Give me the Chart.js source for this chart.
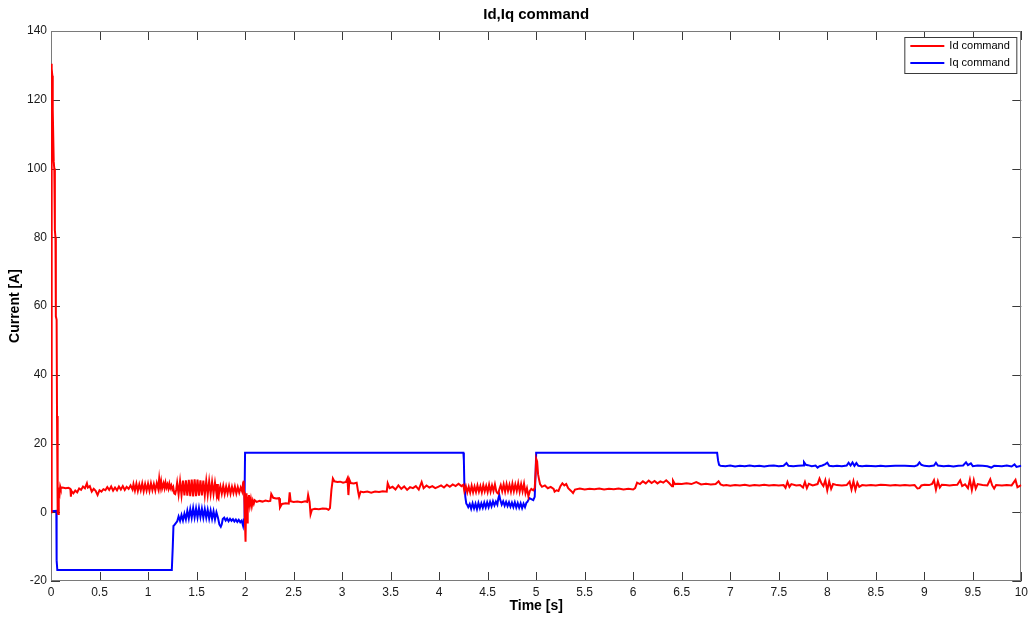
<!DOCTYPE html>
<html>
<head>
<meta charset="utf-8">
<title>Id,Iq command</title>
<script src="https://cdn.jsdelivr.net/npm/chart.js@4/dist/chart.umd.min.js"></script>
<style>
  html, body { margin: 0; padding: 0; background: #ffffff; }
  #plot { display: block; }
</style>
</head>
<body>
<canvas id="plot" width="1032" height="619"></canvas>
<script>
// Title and axis names
const titleText = 'Id,Iq command';
const xAxisName = 'Time [s]';
const yAxisName = 'Current [A]';
const seriesNames = ['Id command', 'Iq command'];

// Tick positions and their labels
const xTickValues = [0, 0.5, 1, 1.5, 2, 2.5, 3, 3.5, 4, 4.5, 5, 5.5, 6, 6.5, 7, 7.5, 8, 8.5, 9, 9.5, 10];
const xTickLabels = ['0', '0.5', '1', '1.5', '2', '2.5', '3', '3.5', '4', '4.5', '5', '5.5', '6', '6.5', '7', '7.5', '8', '8.5', '9', '9.5', '10'];
const yTickValues = [-20, 0, 20, 40, 60, 80, 100, 120, 140];
const yTickLabels = ['-20', '0', '20', '40', '60', '80', '100', '120', '140'];

// Id command: sample times [s]
const idTime = [
  0, 0.004, 0.010, 0.014, 0.016, 0.020, 0.028, 0.034, 0.040, 0.046, 0.050, 0.058, 0.062, 0.066, 0.068, 0.072, 0.074, 0.078, 0.082, 0.09,
  0.095, 0.10, 0.12, 0.15, 0.18, 0.20, 0.205, 0.21, 0.23, 0.25, 0.27, 0.29, 0.31, 0.33, 0.35, 0.37, 0.38, 0.40, 0.42, 0.44,
  0.46, 0.48, 0.50, 0.52, 0.54, 0.56, 0.58, 0.60, 0.62, 0.64, 0.66, 0.68, 0.70, 0.72, 0.74, 0.76, 0.78, 0.80, 0.82, 0.84,
  0.85, 0.865, 0.88, 0.895, 0.91, 0.925, 0.94, 0.955, 0.97, 0.985, 1.00, 1.015, 1.03, 1.045, 1.06, 1.075, 1.09, 1.105, 1.115, 1.125,
  1.135, 1.145, 1.16, 1.17, 1.18, 1.19, 1.20, 1.21, 1.22, 1.23, 1.24, 1.25, 1.26, 1.27, 1.28, 1.29,
  1.30, 1.315, 1.33, 1.345, 1.36, 1.375, 1.39, 1.405, 1.42, 1.435, 1.45, 1.465, 1.48, 1.495, 1.51, 1.525, 1.54, 1.555, 1.57, 1.585,
  1.60, 1.615, 1.63, 1.645, 1.66, 1.675, 1.69, 1.705, 1.712, 1.72, 1.726, 1.735,
  1.745, 1.76, 1.775, 1.79, 1.805, 1.82, 1.835, 1.85, 1.865, 1.88, 1.895, 1.91, 1.925, 1.94, 1.955, 1.97, 1.98, 1.985, 1.99, 1.995,
  2.0, 2.005, 2.01, 2.015, 2.02, 2.025, 2.03, 2.04, 2.05, 2.06, 2.07, 2.08, 2.09, 2.10,
  2.12, 2.15, 2.18, 2.21, 2.24, 2.26, 2.27, 2.29, 2.32, 2.35, 2.36, 2.38, 2.42, 2.45, 2.46, 2.47, 2.50, 2.54, 2.58, 2.62,
  2.64, 2.65, 2.665, 2.675, 2.69, 2.72, 2.76, 2.80, 2.84, 2.86, 2.875, 2.89, 2.905, 2.92, 2.95, 2.98, 3.01, 3.04, 3.055, 3.065,
  3.075, 3.09, 3.12, 3.15, 3.165, 3.175, 3.19, 3.22, 3.26, 3.30, 3.34, 3.38, 3.42, 3.46,
  3.47, 3.49, 3.52, 3.55, 3.58, 3.61, 3.64, 3.67, 3.70, 3.73, 3.76, 3.79, 3.82, 3.84, 3.87, 3.90, 3.93, 3.96, 3.99, 4.02,
  4.05, 4.08, 4.11, 4.14, 4.17, 4.20, 4.23, 4.25,
  4.26, 4.275, 4.29, 4.305, 4.32, 4.335, 4.35, 4.365, 4.38, 4.395, 4.41, 4.425, 4.44, 4.455, 4.47, 4.485, 4.50, 4.515, 4.53, 4.545,
  4.56, 4.575, 4.59, 4.60, 4.61, 4.62, 4.635, 4.65, 4.665, 4.68, 4.695, 4.71, 4.725, 4.74, 4.755, 4.77, 4.785, 4.80, 4.815, 4.83,
  4.845, 4.86, 4.875, 4.89, 4.905, 4.92, 4.935, 4.95, 4.97, 4.985,
  4.995, 5.0, 5.01, 5.02, 5.03, 5.04, 5.06, 5.09, 5.12, 5.15, 5.18, 5.19, 5.21, 5.23, 5.25, 5.27, 5.29, 5.31, 5.33, 5.36,
  5.38, 5.40, 5.45, 5.5, 5.55, 5.6, 5.65, 5.7, 5.75, 5.8, 5.85, 5.9, 5.95, 6.0, 6.02, 6.04, 6.07, 6.10, 6.13, 6.16,
  6.19, 6.22, 6.25, 6.28, 6.31, 6.34, 6.37, 6.40, 6.41, 6.43, 6.46, 6.5, 6.55, 6.6, 6.65, 6.7, 6.75, 6.8, 6.85, 6.88,
  6.9, 6.93, 6.96, 7.0, 7.05, 7.1, 7.15, 7.2, 7.25, 7.3, 7.35, 7.4, 7.45, 7.5, 7.55, 7.57, 7.59, 7.61, 7.63, 7.68,
  7.72, 7.75, 7.77, 7.79, 7.81, 7.85, 7.9, 7.92, 7.94, 7.96, 7.98, 8.0, 8.02, 8.04, 8.06, 8.1, 8.15, 8.2, 8.23, 8.25,
  8.27, 8.29, 8.31, 8.33, 8.36, 8.4, 8.45, 8.5, 8.55, 8.6, 8.65, 8.7, 8.75, 8.8, 8.85, 8.9, 8.93, 8.95, 8.97, 9.0,
  9.05, 9.08, 9.1, 9.12, 9.14, 9.16, 9.18, 9.22, 9.26, 9.3, 9.34, 9.37, 9.39, 9.42, 9.45, 9.47, 9.49, 9.51, 9.53, 9.55,
  9.6, 9.65, 9.68, 9.7, 9.72, 9.74, 9.8, 9.85, 9.9, 9.94, 9.96, 10
];
// Id command: current [A]
const idCurrent = [
  0, 130.5, 129, 127, 120, 117, 102, 100, 82, 80, 57, 56, 28, 20, 7, 0, -0.5, 4, 7.2, 5.8,
  7.5, 7, 7.2, 7, 7.1, 6.8, 4.5, 6.2, 5.5, 6.3, 5.8, 6.9, 6.5, 7.5, 7, 8.4, 7.2, 7.6, 6, 6.8,
  6.2, 5, 6.4, 6, 6.7, 6.4, 7.3, 6.5, 7.5, 6.3, 7.2, 6.4, 7.5, 6.6, 7.6, 6.5, 7.4, 6.8, 7.8, 6.6,
  8.2, 6.3, 8.3, 6.2, 8.1, 6.4, 8.4, 6.1, 8.2, 6.3, 8.3, 6.2, 8.4, 6.4, 8.2, 6.3, 8.5, 6.8, 9.8, 7.2,
  9, 6.9, 8.4, 7, 8.6, 7.2, 8.1, 6.9, 8.3, 7, 7.8, 6.6, 7.3, 5.5, 5.3, 6.5,
  8.6, 5.2, 9, 5, 9.2, 4.9, 9.3, 4.8, 9.4, 4.7, 9.5, 4.6, 9.6, 4.7, 9.5, 4.8, 9.3, 4.9, 9.2, 5,
  9.1, 5.1, 9, 5.3, 8.8, 5.4, 8.6, 5.5, 8.2, 4.2, 3.9, 6.5,
  7.6, 5.4, 7.7, 5.3, 7.5, 5.5, 7.6, 5.4, 7.4, 5.6, 7.5, 5.5, 7.3, 5.7, 7.2, 6, 8.6, 9.2, 6, 2,
  -4, -8.6, 2, 5.5, -3, 4.5, 0.5, 5, 2, 3.8, 1.8, 3.4, 2.5, 3.5,
  3, 3.3, 3.1, 3.4, 3.2, 3.3, 5.3, 4.2, 4, 4.1, 1.4, 2.4, 2.6, 2.5, 5.8, 3.2, 3, 3.1, 2.9, 3.2,
  3, 5, 3, -0.6, 0.8, 1, 0.9, 1.1, 1, 0.7, 1.2, 6.5, 9.8, 9, 8.8, 8.9, 8.6, 8.8, 9.8, 5,
  9.5, 8.5, 8.4, 8.6, 6, 4.6, 6, 5.8, 6, 5.7, 6, 5.9, 6.1, 6,
  8.4, 7, 7.4, 6.6, 7.8, 6.8, 7.5, 6.5, 7.3, 7, 7.6, 6.6, 8.8, 7, 7.8, 7.2, 7.6, 7, 7.4, 7.8,
  7.2, 8, 7.4, 8.1, 7.6, 8.3, 7.6, 8,
  6.2, 7.6, 5.8, 7.4, 5.7, 7.7, 5.8, 7.5, 5.9, 7.8, 6, 7.6, 5.8, 7.9, 6.1, 7.7, 5.9, 8, 6, 7.8,
  6.2, 8.1, 6, 5.6, 5.4, 6.6, 7.9, 6.1, 8.1, 6, 8.2, 6.2, 8, 6, 8.3, 6.1, 8.1, 6.2, 8.4, 6,
  8.2, 6.1, 8.3, 5.5, 7, 4.6, 6.2, 6.8, 6.4, 7,
  12, 15.6, 14.8, 11, 9.5, 8.2, 7.4, 7.8, 7, 7.4, 6.8, 6, 6.4, 6.2, 7.6, 8.4, 7.8, 8.2, 7, 6.2,
  5.6, 6.6, 6.9, 6.6, 6.8, 6.7, 6.9, 6.6, 6.8, 6.7, 6.9, 6.6, 6.8, 6.6, 7, 8.6, 8.2, 9, 8.4, 9.2,
  8.5, 9.1, 8.4, 9, 8.6, 9.3, 8.5, 7.6, 9.2, 8.2, 8.3, 8.2, 8.4, 8.2, 8.8, 8.1, 8.3, 8.1, 8.2, 9,
  8.1, 7.8, 7.9, 7.7, 7.9, 7.8, 8, 7.7, 7.9, 7.8, 8, 7.8, 7.9, 7.8, 7.9, 7.1, 8.8, 7.4, 8.2, 7.8,
  7.9, 7.2, 8.8, 7, 8.3, 7.8, 8.2, 9.8, 8.4, 7.6, 9.3, 6.4, 9, 6.8, 8.2, 7.9, 7.8, 7.9, 8.9, 6.6,
  9, 6.5, 8.6, 7.4, 7.9, 7.8, 7.9, 7.8, 8, 7.9, 7.8, 7.9, 7.8, 7.9, 7.8, 7.9, 6.9, 7, 7.8, 8,
  7.9, 8.2, 9.3, 6.6, 9, 7.2, 8, 7.9, 7.8, 7.9, 8, 9.3, 7.6, 8.1, 7, 9.5, 6.5, 9.3, 6.9, 8.2,
  7.9, 7.8, 9.6, 7.8, 6.9, 7.9, 7.8, 7.9, 7.8, 9.4, 7.3, 7.9
];

// Iq command: sample times [s]
const iqTime = [
  0, 0.055, 0.058, 0.065, 1.245, 1.255, 1.262, 1.275, 1.29, 1.30,
  1.315, 1.33, 1.345, 1.36, 1.375, 1.39, 1.405, 1.42, 1.435, 1.45, 1.465, 1.48, 1.495, 1.51, 1.525, 1.54, 1.555, 1.57, 1.585, 1.60,
  1.615, 1.63, 1.645, 1.66, 1.675, 1.69, 1.705, 1.72, 1.735, 1.75, 1.76, 1.77,
  1.785, 1.80, 1.815, 1.83, 1.845, 1.86, 1.875, 1.89, 1.905, 1.92, 1.935, 1.95, 1.965, 1.98, 1.99, 1.995, 2.0,
  4.25, 4.255, 4.26, 4.27, 4.28, 4.29, 4.30,
  4.315, 4.33, 4.345, 4.36, 4.375, 4.39, 4.405, 4.42, 4.435, 4.45, 4.465, 4.48, 4.495, 4.51, 4.525, 4.54, 4.555, 4.57, 4.585, 4.60,
  4.61, 4.62, 4.63, 4.645, 4.66, 4.675, 4.69, 4.705, 4.72, 4.735, 4.75, 4.765, 4.78, 4.795, 4.81, 4.825, 4.84, 4.855, 4.87, 4.885,
  4.90, 4.91, 4.93, 4.95, 4.97, 4.985, 4.995, 5.0, 6.865, 6.875, 6.885, 6.9,
  6.95, 7.0, 7.05, 7.1, 7.15, 7.2, 7.25, 7.3, 7.35, 7.4, 7.45, 7.5, 7.55, 7.58, 7.6, 7.65, 7.7, 7.75, 7.76, 7.78,
  7.8, 7.84, 7.88, 7.9, 7.92, 7.95, 7.98, 8.0, 8.02, 8.06, 8.1, 8.15, 8.2, 8.22, 8.24, 8.26, 8.28, 8.3, 8.32, 8.36,
  8.4, 8.5, 8.55, 8.6, 8.7, 8.8, 8.9, 8.93, 8.95, 8.97, 9.0, 9.05, 9.1, 9.12, 9.14, 9.2, 9.25, 9.3, 9.35, 9.4,
  9.43, 9.45, 9.48, 9.5, 9.55, 9.6, 9.65, 9.69, 9.72, 9.8, 9.85, 9.9, 9.93, 9.95, 10
];
// Iq command: current [A]
const iqCurrent = [
  0.3, 0.4, -14, -16.8, -16.8, -10, -4, -3.6, -3, -2.7,
  -1.2, -2.5, -0.8, -2.4, -0.4, -2.1, 0.4, -1.8, 0.9, -1.6, 1.2, -1.5, 1.1, -1.5, 1.2, -1.4, 1, -1.6, 0.9, -1.6,
  0.7, -1.8, 0.5, -1.9, 0.3, -2.1, 0, -1.5, -3.5, -4.2, -3.5, -2,
  -1.6, -2.4, -1.8, -2.6, -1.9, -2.5, -2, -2.7, -2.1, -2.8, -2.2, -2.9, -2.4, -4, -2, 5, 17.3,
  17.3, 15, 8, 4.5, 2.5, 2.1, 1.5,
  2.4, 1, 2.6, 1.1, 2.5, 0.9, 2.7, 1.2, 2.6, 1.3, 2.8, 1.4, 2.9, 1.5, 3, 1.7, 3.2, 2, 3.1, 2.2,
  4, 5, 3.6, 2.2, 3.2, 1.9, 3, 1.8, 2.9, 1.6, 2.8, 1.5, 2.9, 1.4, 2.7, 1.3, 2.6, 1.2, 2.5, 1.5,
  2.8, 3, 4.1, 3.8, 3.5, 4.5, 12, 17.3, 17.3, 15, 13.8, 13.5,
  13.4, 13.6, 13.3, 13.5, 13.4, 13.6, 13.4, 13.5, 13.3, 13.5, 13.6, 13.4, 13.5, 14.3, 13.5, 13.4, 13.5, 13.6, 14.6, 13.8,
  13.7, 13.4, 13.6, 13.0, 13.4, 13.6, 14, 14.4, 13.5, 13.4, 13.5, 13.4, 13.6, 14.4, 13.6, 14.5, 13.5, 14.3, 13.5, 13.4,
  13.5, 13.4, 13.5, 13.4, 13.5, 13.5, 13.4, 13.7, 14.5, 13.8, 13.5, 13.4, 13.6, 14.4, 13.6, 13.4, 13.5, 13.3, 13.5, 13.6,
  14.5, 13.7, 14.2, 13.4, 13.6, 13.5, 13.4, 13.0, 13.5, 13.4, 13.6, 13.3, 13.9, 13.2, 13.5
];

const seriesColors = ['#ff0000', '#0000ff'];
const baseFont = "'Liberation Sans', Arial, Helvetica, sans-serif";

const toPoints = (ts, vs) => ts.map((t, i) => ({ x: t, y: vs[i] }));

// Box frame with inward tick marks on all four sides, plus title and legend
const axesBox = {
  id: 'axesBox',
  beforeDatasetsDraw(chart) {
    const { ctx, chartArea: a, scales: { x, y } } = chart;
    const len = 9;
    ctx.save();
    ctx.lineWidth = 1;
    ctx.strokeStyle = '#3a3a3a';
    ctx.beginPath();
    x.ticks.forEach(t => {
      const px = Math.round(x.getPixelForValue(t.value)) + 0.5;
      ctx.moveTo(px, a.bottom); ctx.lineTo(px, a.bottom - len);
      ctx.moveTo(px, a.top); ctx.lineTo(px, a.top + len);
    });
    y.ticks.forEach(t => {
      const py = Math.round(y.getPixelForValue(t.value)) + 0.5;
      ctx.moveTo(a.left, py); ctx.lineTo(a.left + len, py);
      ctx.moveTo(a.right, py); ctx.lineTo(a.right - len, py);
    });
    ctx.stroke();
    ctx.strokeStyle = '#7a7a7a';
    ctx.strokeRect(Math.round(a.left) + 0.5, Math.round(a.top) + 0.5,
      Math.round(a.right - a.left) - 1, Math.round(a.bottom - a.top) - 1);
    ctx.restore();
  },
  afterDraw(chart) {
    const { ctx, chartArea: a } = chart;
    ctx.save();
    // Title centred over the plot box
    ctx.fillStyle = '#000000';
    ctx.font = 'bold 15px ' + baseFont;
    ctx.textAlign = 'center';
    ctx.textBaseline = 'middle';
    ctx.fillText(titleText, (a.left + a.right) / 2, 15);

    // Legend box in the upper-right corner of the plot
    const bx = a.right - 117, by = a.top + 6, bw = 112, bh = 36;
    ctx.fillStyle = '#ffffff';
    ctx.fillRect(bx, by, bw, bh);
    ctx.strokeStyle = '#3a3a3a';
    ctx.lineWidth = 1;
    ctx.strokeRect(bx + 0.5, by + 0.5, bw, bh);
    ctx.font = '11px ' + baseFont;
    ctx.textAlign = 'left';
    chart.data.datasets.forEach((ds, i) => {
      const ly = by + 9 + i * 17;
      ctx.strokeStyle = ds.borderColor;
      ctx.lineWidth = 2;
      ctx.beginPath();
      ctx.moveTo(bx + 6, ly); ctx.lineTo(bx + 40, ly);
      ctx.stroke();
      ctx.fillStyle = '#000000';
      ctx.fillText(ds.label, bx + 45, ly);
    });
    ctx.restore();
  }
};

new Chart(document.getElementById('plot'), {
  type: 'line',
  data: {
    datasets: [
      { label: seriesNames[0], data: toPoints(idTime, idCurrent), borderColor: seriesColors[0], backgroundColor: seriesColors[0], borderWidth: 2, pointRadius: 0, tension: 0, fill: false },
      { label: seriesNames[1], data: toPoints(iqTime, iqCurrent), borderColor: seriesColors[1], backgroundColor: seriesColors[1], borderWidth: 2, pointRadius: 0, tension: 0, fill: false }
    ]
  },
  options: {
    responsive: false,
    animation: false,
    devicePixelRatio: 1,
    layout: { padding: { top: 31, right: 10, left: 0, bottom: 0 } },
    plugins: {
      legend: { display: false },
      title: { display: false },
      tooltip: { enabled: false }
    },
    scales: {
      x: {
        type: 'linear',
        min: 0, max: 10,
        afterBuildTicks: s => { s.ticks = xTickValues.map(v => ({ value: v })); },
        afterFit: s => { s.height = 38; },
        grid: { display: false, drawTicks: false },
        border: { display: false },
        ticks: {
          autoSkip: false, maxRotation: 0, padding: 4,
          color: '#1a1a1a', font: { family: baseFont, size: 12 },
          callback: (v, i) => xTickLabels[i]
        },
        title: { display: true, text: xAxisName, color: '#000000', padding: { top: 0, bottom: 4 }, font: { family: baseFont, size: 14, weight: 'bold' } }
      },
      y: {
        type: 'linear',
        min: -20, max: 140,
        afterBuildTicks: s => { s.ticks = yTickValues.map(v => ({ value: v })); },
        afterFit: s => { s.width = 51; },
        grid: { display: false, drawTicks: false },
        border: { display: false },
        ticks: {
          autoSkip: false, padding: 4,
          color: '#1a1a1a', font: { family: baseFont, size: 12 },
          callback: (v, i) => yTickLabels[i]
        },
        title: { display: true, text: yAxisName, color: '#000000', padding: { top: 7, bottom: 0 }, font: { family: baseFont, size: 14, weight: 'bold' } }
      }
    }
  },
  plugins: [axesBox]
});
</script>
</body>
</html>
